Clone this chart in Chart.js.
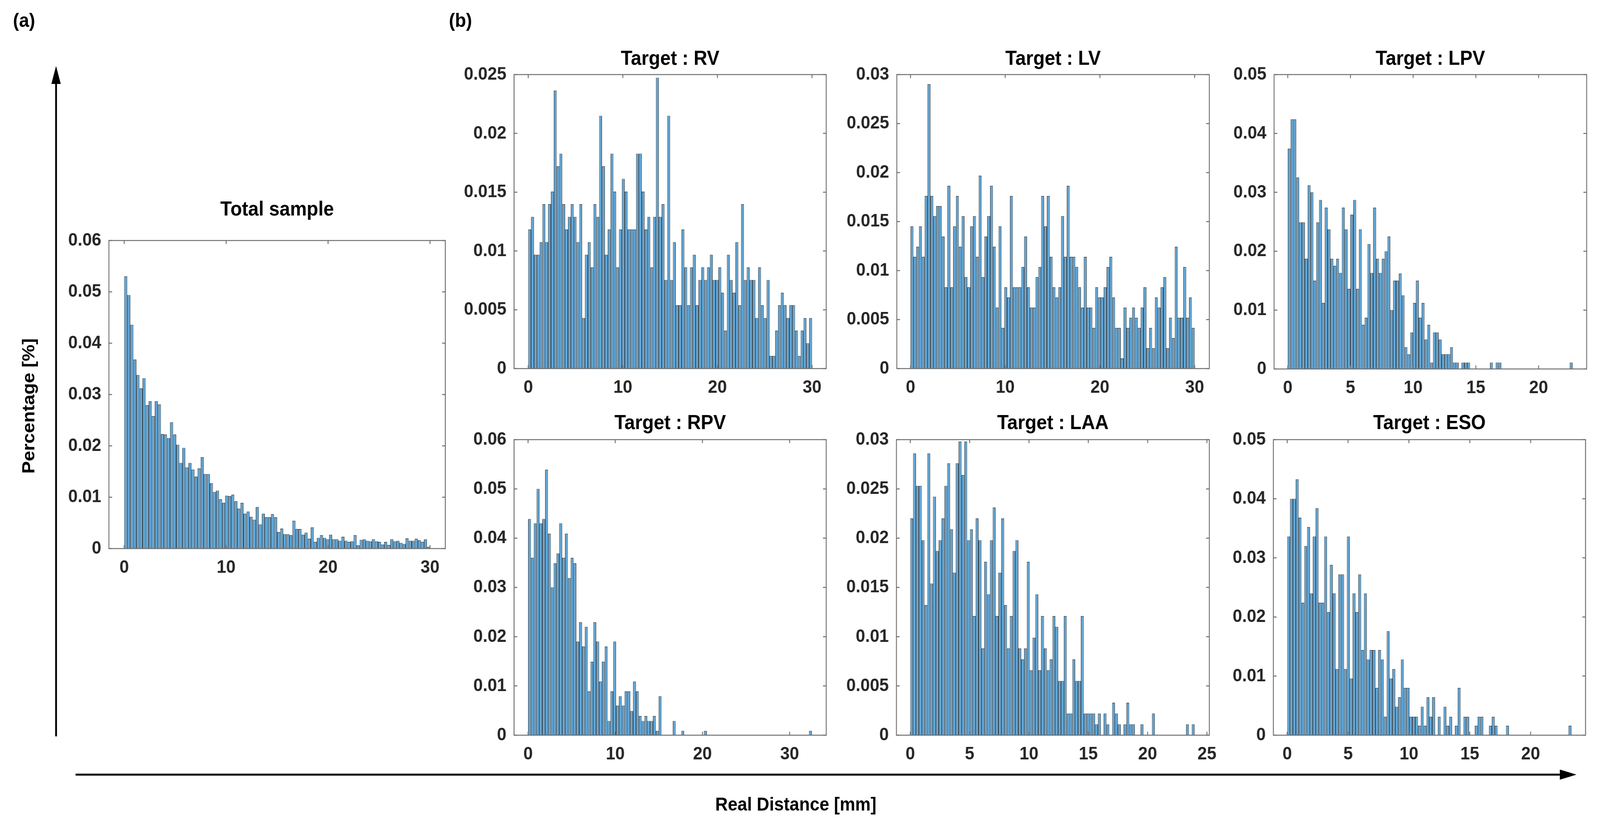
<!DOCTYPE html>
<html>
<head>
<meta charset="utf-8">
<script src="https://cdn.jsdelivr.net/npm/chart.js@4.4.1/dist/chart.umd.min.js"></script>
<style>
html,body{margin:0;padding:0;background:#fff;width:100%;height:100%;overflow:hidden;}
#stage{position:absolute;left:0;top:0;width:4423px;height:2113px;transform-origin:0 0;font-family:'Liberation Sans',Arial,sans-serif;background:#fff;}
#stage canvas{position:absolute;}
#stage svg{position:absolute;left:0;top:0;}
</style>
</head>
<body>
<div id="stage"></div>
<script>
// ---------------- DATA ----------------
const panelTitles = ['Total sample', 'Target : RV', 'Target : LV', 'Target : LPV', 'Target : RPV', 'Target : LAA', 'Target : ESO'];

// upper edge of the last histogram bin (mm), 100 bins from 0
const binUpperEdges = [30, 30, 30, 22.71, 32.55, 23.96, 23.35];

const totalSample = [
0.0530,0.0494,0.0436,0.0368,0.0338,0.0312,0.0332,0.0279,0.0287,0.0258,
0.0287,0.0281,0.0223,0.0222,0.0215,0.0246,0.0222,0.0202,0.0167,0.0196,
0.0158,0.0167,0.0154,0.0140,0.0156,0.0178,0.0145,0.0145,0.0127,0.0110,
0.0113,0.0096,0.0089,0.0103,0.0102,0.0105,0.0092,0.0078,0.0089,0.0068,
0.0072,0.0062,0.0056,0.0081,0.0047,0.0068,0.0061,0.0061,0.0067,0.0061,
0.0032,0.0039,0.0028,0.0028,0.0026,0.0054,0.0038,0.0038,0.0027,0.0031,
0.0019,0.0041,0.0013,0.0021,0.0026,0.0021,0.0018,0.0027,0.0018,0.0018,
0.0015,0.0023,0.0015,0.0013,0.0014,0.0026,0.0006,0.0017,0.0018,0.0015,
0.0014,0.0018,0.0014,0.0013,0.0008,0.0013,0.0007,0.0018,0.0014,0.0015,
0.0011,0.0009,0.0020,0.0015,0.0015,0.0019,0.0016,0.0013,0.0018,0.0003];

const rvValues = [
0.01183,0.0129,0.00968,0.00968,0.01075,0.01398,0.01075,0.01398,0.01505,0.02365,
0.0172,0.01828,0.01398,0.01183,0.0129,0.01398,0.0129,0.01075,0.01398,0.0043,
0.00968,0.01075,0.0086,0.01398,0.0129,0.0215,0.0172,0.00968,0.01183,0.01828,
0.01505,0.0086,0.01183,0.01613,0.01505,0.01183,0.01183,0.01183,0.01828,0.01828,
0.01505,0.01183,0.0129,0.0086,0.0129,0.02473,0.0129,0.01398,0.00753,0.0215,
0.00753,0.01075,0.00538,0.00538,0.01183,0.0086,0.00538,0.0086,0.00968,0.00538,
0.00753,0.0086,0.00753,0.0086,0.00968,0.00753,0.00753,0.0086,0.00645,0.00323,
0.00968,0.00753,0.00645,0.01075,0.00538,0.01398,0.00753,0.0086,0.00753,0.00753,
0.0043,0.0086,0.00538,0.0043,0.00753,0.00108,0.00108,0.00323,0.00538,0.00645,
0.00538,0.0043,0.00538,0.00538,0.00323,0.00108,0.00323,0.0043,0.00215,0.0043];

const lvValues = [
0.0145,0.0114,0.01243,0.0145,0.0114,0.01761,0.02901,0.01761,0.01554,0.01658,
0.01658,0.01347,0.00829,0.01865,0.00829,0.0145,0.01761,0.01243,0.01554,0.00932,
0.00829,0.0145,0.01554,0.0114,0.01968,0.00932,0.01347,0.01554,0.01865,0.01243,
0.00622,0.0145,0.00414,0.00829,0.00725,0.01761,0.00829,0.00829,0.00829,0.01036,
0.01347,0.00829,0.00622,0.00622,0.00932,0.01036,0.01761,0.0145,0.01761,0.0114,
0.00829,0.00725,0.00829,0.01554,0.0114,0.01865,0.0114,0.0114,0.01036,0.00829,
0.00622,0.0114,0.00622,0.00622,0.00414,0.00829,0.00725,0.00725,0.00829,0.01036,
0.0114,0.00725,0.00414,0.00414,0.00104,0.00622,0.00414,0.00518,0.00622,0.00518,
0.00414,0.00622,0.00829,0.00207,0.00414,0.00207,0.00725,0.00622,0.00829,0.00932,
0.00207,0.00518,0.00311,0.01243,0.00518,0.00518,0.01036,0.00518,0.00725,0.00414];

const lpvValues = [
0.0374,0.0424,0.0424,0.0325,0.0249,0.0249,0.0187,0.0312,0.0300,0.0150,
0.0249,0.0287,0.0112,0.0274,0.0237,0.0187,0.0175,0.0187,0.0163,0.0274,
0.0237,0.0136,0.0262,0.0287,0.0136,0.0237,0.0075,0.0087,0.0212,0.0163,
0.0274,0.0187,0.0163,0.0187,0.0200,0.0225,0.0100,0.0150,0.0150,0.0162,
0.0125,0.0037,0.0025,0.0062,0.0112,0.0150,0.0087,0.0112,0.0050,0.0075,
0.0011,0.0062,0.0062,0.0050,0.0025,0.0025,0.0025,0.0037,0.0011,0.0011,
0,0.0011,0.0011,0.0011,0,0,0,0,0,0,
0,0.0011,0,0.0011,0.0011,0,0,0,0,0,
0,0,0,0,0,0,0,0,0,0,
0,0,0,0,0,0,0,0,0,0.0011];

const rpvValues = [
0.0439,0.0360,0.0430,0.0500,0.0430,0.0439,0.0539,0.0409,0.0300,0.0349,
0.0369,0.0430,0.0360,0.0409,0.0319,0.0360,0.0349,0.0190,0.0229,0.0180,
0.0220,0.0089,0.0149,0.0229,0.0190,0.0109,0.0149,0.0180,0.0029,0.0089,
0.0190,0.0060,0.0079,0.0060,0.0089,0.0089,0.0049,0.0109,0.0089,0.0039,
0.0029,0.0039,0.0029,0.0029,0.0039,0.0009,0.0079,0,0,0,
0,0.0029,0,0,0.0009,0,0,0,0,0,
0,0,0.0009,0,0,0,0,0,0,0,
0,0,0,0,0,0,0,0,0,0,
0,0,0,0,0,0,0,0,0,0,
0,0,0,0,0,0,0,0,0,0.0009];

const laaValues = [
0.0220,0.0286,0.0253,0.0253,0.0198,0.0132,0.0286,0.0154,0.0242,0.0187,
0.0198,0.0220,0.0253,0.0276,0.0209,0.0165,0.0276,0.0298,0.0264,0.0298,
0.0198,0.0209,0.0121,0.0220,0.0198,0.0088,0.0176,0.0143,0.0198,0.0231,
0.0121,0.0165,0.0220,0.0132,0.0088,0.0121,0.0187,0.0198,0.0088,0.0077,
0.0088,0.0176,0.0066,0.0099,0.0143,0.0066,0.0121,0.0088,0.0066,0.0077,
0.0121,0.0110,0.0055,0.0055,0.0121,0.0022,0.0022,0.0077,0.0055,0.0055,
0.0121,0.0022,0.0022,0.0022,0.0022,0.0011,0.0022,0,0.0022,0.0011,
0,0.0033,0.0022,0.0011,0,0.0011,0.0033,0.0011,0.0011,0,
0,0.0011,0,0,0,0.0022,0,0,0,0,
0,0,0,0,0,0,0,0.0011,0,0.0011];

const esoValues = [
0.0336,0.0400,0.0400,0.0433,0.0368,0.0224,0.0320,0.0352,0.0240,0.0336,
0.0384,0.0224,0.0224,0.0336,0.0208,0.0288,0.0240,0.0112,0.0272,0.0272,
0.0112,0.0336,0.0096,0.0240,0.0208,0.0272,0.0144,0.0240,0.0128,0.0144,
0.0144,0.0080,0.0144,0.0128,0.0031,0.0176,0.0096,0.0112,0.0048,0.0064,
0.0128,0.0080,0.0080,0.0031,0.0031,0.0031,0.0016,0.0048,0.0016,0.0064,
0.0031,0.0064,0,0.0031,0,0.0048,0.0016,0.0031,0,0.0016,
0.0080,0,0.0031,0.0031,0,0,0.0016,0.0031,0.0031,0,
0,0.0016,0.0031,0.0016,0,0,0,0.0016,0,0,
0,0,0,0,0,0,0,0,0,0,
0,0,0,0,0,0,0,0,0,0.0016];

const panelValues = [totalSample, rvValues, lvValues, lpvValues, rpvValues, laaValues, esoValues];

// tick labels
const xTicks10 = [0, 10, 20, 30];
const xTicks5 = [0, 5, 10, 15, 20];
const xTicks5to25 = [0, 5, 10, 15, 20, 25];
const yTicks06 = [0, 0.01, 0.02, 0.03, 0.04, 0.05, 0.06];
const yTicks05 = [0, 0.01, 0.02, 0.03, 0.04, 0.05];
const yTicks025 = [0, 0.005, 0.01, 0.015, 0.02, 0.025];
const yTicks03 = [0, 0.005, 0.01, 0.015, 0.02, 0.025, 0.03];
const panelXTicks = [xTicks10, xTicks10, xTicks10, xTicks5, xTicks10, xTicks5to25, xTicks5];
const panelYTicks = [yTicks06, yTicks025, yTicks03, yTicks05, yTicks06, yTicks03, yTicks05];

// ---------------- LAYOUT (pixels / axis limits) ----------------
const STAGE_W = 4423, STAGE_H = 2113;
const panelBoxes = [
  {l: 301,  r: 1231, t: 616,  b: 1405, gap: 78, xmin: -1.5,  xmax: 31.5},
  {l: 1421, r: 2284, t: 191,  b: 944,  gap: 39, xmin: -1.5,  xmax: 31.5},
  {l: 2479, r: 3343, t: 191,  b: 944,  gap: 39, xmin: -1.45, xmax: 31.55},
  {l: 3522, r: 4386, t: 191,  b: 945,  gap: 39, xmin: -1.09, xmax: 23.83},
  {l: 1421, r: 2284, t: 1126, b: 1883, gap: 41, xmin: -1.61, xmax: 34.2},
  {l: 2478, r: 3343, t: 1126, b: 1883, gap: 41, xmin: -1.17, xmax: 25.2},
  {l: 3520, r: 4383, t: 1126, b: 1883, gap: 41, xmin: -1.14, xmax: 24.51}
];

const FONT = "'Liberation Sans', Arial, sans-serif";
const AXIS_COLOR = '#6f6f6f';
const TICK_TEXT = '#262626';
const BAR_FILL = 'rgb(96,165,213)';
const BAR_EDGE = '#222222';
Chart.defaults.font.family = FONT;

const stage = document.getElementById('stage');
function fitStage() {
  const vw = window.innerWidth || document.documentElement.clientWidth || STAGE_W;
  const vh = window.innerHeight || document.documentElement.clientHeight || STAGE_H;
  stage.style.transform = 'scale(' + (vw / STAGE_W) + ',' + (vh / STAGE_H) + ')';
}
fitStage();
window.addEventListener('resize', fitStage);

const matlabBox = {
  id: 'matlabBox',
  afterDatasetsDraw(chart) {
    const {ctx, chartArea: a, scales} = chart;
    const xs = scales.x, ys = scales.y;
    const tl = 9;
    ctx.save();
    ctx.strokeStyle = AXIS_COLOR;
    ctx.lineWidth = 2.5;
    ctx.strokeRect(a.left, a.top, a.right - a.left, a.bottom - a.top);
    ctx.beginPath();
    xs.ticks.forEach(t => {
      const px = xs.getPixelForValue(t.value);
      ctx.moveTo(px, a.bottom); ctx.lineTo(px, a.bottom - tl);
      ctx.moveTo(px, a.top); ctx.lineTo(px, a.top + tl);
    });
    ys.ticks.forEach(t => {
      const py = ys.getPixelForValue(t.value);
      ctx.moveTo(a.left, py); ctx.lineTo(a.left + tl, py);
      ctx.moveTo(a.right, py); ctx.lineTo(a.right - tl, py);
    });
    ctx.stroke();
    ctx.restore();
  }
};

const PAD_L = 150, PAD_R = 60, PAD_B = 90, TITLE_SIZE = 52;

panelBoxes.forEach((box, idx) => {
  const values = panelValues[idx];
  const binW = binUpperEdges[idx] / values.length;
  const xt = panelXTicks[idx], yt = panelYTicks[idx];
  const topOff = box.gap + TITLE_SIZE / 2;
  const cv = document.createElement('canvas');
  const W = PAD_L + (box.r - box.l) + PAD_R;
  const H = topOff + (box.b - box.t) + PAD_B;
  cv.width = W; cv.height = H;
  cv.style.width = W + 'px'; cv.style.height = H + 'px';
  cv.style.left = (box.l - PAD_L) + 'px';
  cv.style.top = (box.t - topOff) + 'px';
  stage.appendChild(cv);

  new Chart(cv, {
    type: 'bar',
    data: {
      datasets: [{
        data: values.map((v, i) => ({x: (i + 0.5) * binW, y: v})),
        backgroundColor: BAR_FILL,
        borderColor: BAR_EDGE,
        borderWidth: 1.2,
        barPercentage: 1,
        categoryPercentage: 1,
        inflateAmount: 0
      }]
    },
    options: {
      responsive: false,
      animation: false,
      devicePixelRatio: 1,
      events: [],
      layout: {padding: {left: 0, right: PAD_R, top: 0, bottom: 0}},
      plugins: {
        legend: {display: false},
        tooltip: {enabled: false},
        title: {
          display: true,
          text: panelTitles[idx],
          fullSize: false,
          color: '#000',
          font: {size: TITLE_SIZE, weight: 'bold', lineHeight: 1},
          padding: {top: 0, bottom: topOff - TITLE_SIZE}
        }
      },
      scales: {
        x: {
          type: 'linear',
          min: box.xmin,
          max: box.xmax,
          offset: false,
          grid: {display: false, drawTicks: false},
          border: {display: false},
          afterBuildTicks: s => { s.ticks = xt.map(v => ({value: v})); },
          afterFit: s => { s.height = PAD_B; },
          ticks: {
            autoSkip: false, maxRotation: 0, minRotation: 0,
            padding: 26,
            color: TICK_TEXT,
            font: {size: 47, weight: 'bold', lineHeight: 1},
            callback: v => String(v)
          }
        },
        y: {
          type: 'linear',
          min: 0,
          max: yt[yt.length - 1],
          grid: {display: false, drawTicks: false},
          border: {display: false},
          afterBuildTicks: s => { s.ticks = yt.map(v => ({value: v})); },
          afterFit: s => { s.width = PAD_L; },
          ticks: {
            padding: 21,
            color: TICK_TEXT,
            font: {size: 47, weight: 'bold', lineHeight: 1},
            callback: v => String(v)
          }
        }
      }
    },
    plugins: [matlabBox]
  });
});

// ---------------- overlay: panel labels, arrows, axis titles ----------------
const svgNS = 'http://www.w3.org/2000/svg';
const svg = document.createElementNS(svgNS, 'svg');
svg.setAttribute('width', STAGE_W); svg.setAttribute('height', STAGE_H);
svg.innerHTML = `
  <g font-family="Liberation Sans, Arial, sans-serif" font-weight="bold" fill="#000">
    <text x="36" y="69" font-size="50">(a)</text>
    <text x="1241" y="69" font-size="50">(b)</text>
    <text transform="translate(78,1040) rotate(-90)" x="0" y="17" font-size="48" text-anchor="middle">Percentage [%]</text>
    <text x="2200" y="2076" font-size="48" text-anchor="middle">Real Distance [mm]</text>
  </g>
  <line x1="155" y1="1886" x2="155" y2="205" stroke="#000" stroke-width="5"/>
  <polygon points="155,169 142,215 168,215" fill="#000"/>
  <line x1="209" y1="1984" x2="4322" y2="1984" stroke="#000" stroke-width="5"/>
  <polygon points="4358,1984 4312,1971 4312,1997" fill="#000"/>
`;
stage.appendChild(svg);
</script>
</body>
</html>
